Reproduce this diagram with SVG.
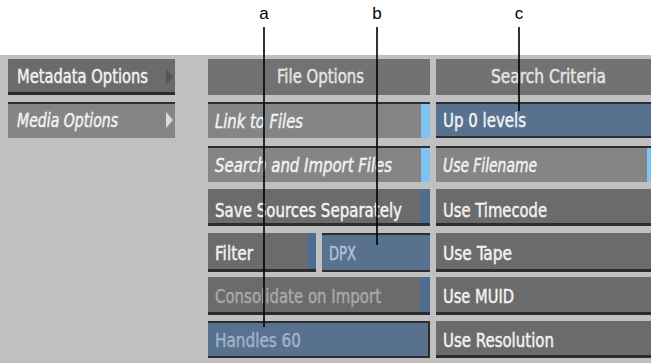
<svg xmlns="http://www.w3.org/2000/svg" width="651" height="363" viewBox="0 0 651 363">
<style>
.t{font-family:"DejaVu Sans Condensed","DejaVu Sans",sans-serif;font-size:19px;fill:#f2f2f2;stroke:#f2f2f2;stroke-width:0.45}
.i{font-style:italic}
.raised{fill:#6b6b6b}
.pressed{fill:#858585}
.head{fill:#727272}
.field{fill:#57718f}
.dk{fill:#2c2c2c}
.lb{fill:#7fc3f2}
.db{fill:#4f6c90}
.lbl{font-family:"Liberation Sans",Arial,sans-serif;font-size:17px;fill:#000}
.ld{stroke:#000;stroke-width:1.6;fill:none}
</style>
<rect x="0" y="0" width="651" height="363" fill="#ffffff"/>
<rect x="0" y="55" width="651" height="308" fill="#c0c0c0"/>

<g id="metadata-options">
<rect class="raised" x="8" y="59" width="167" height="36"/>
<rect class="dk" x="8" y="92" width="167" height="3"/>
<polygon points="166,69 173,77 166,85" fill="#555"/>
<text class="t" x="17" y="83" textLength="131" lengthAdjust="spacingAndGlyphs">Metadata Options</text>
</g>
<g id="media-options">
<rect class="pressed" x="8" y="102" width="167" height="36"/>
<rect class="dk" x="8" y="102" width="167" height="2"/>
<polygon points="166,112 173,120 166,128" fill="#dcdcdc"/>
<text class="t i" x="17" y="127" textLength="101" lengthAdjust="spacingAndGlyphs">Media Options</text>
</g>

<g id="file-options">
<rect class="head" x="208" y="59" width="222" height="36"/>
<text class="t" x="277" y="83" textLength="87" lengthAdjust="spacingAndGlyphs" style="fill:#e4e4e4;stroke:#e4e4e4">File Options</text>
</g>
<g id="link-to-files">
<rect class="pressed" x="208" y="102" width="222" height="36"/>
<rect class="dk" x="208" y="102" width="222" height="2"/>
<rect class="lb" x="421" y="104" width="9" height="34"/>
<text class="t i" x="215" y="128" textLength="88" lengthAdjust="spacingAndGlyphs">Link to Files</text>
</g>
<g id="search-and-import-files">
<rect class="pressed" x="208" y="146" width="222" height="36"/>
<rect class="dk" x="208" y="146" width="222" height="2"/>
<rect class="lb" x="421" y="148" width="9" height="34"/>
<text class="t i" x="215" y="172" textLength="177" lengthAdjust="spacingAndGlyphs">Search and Import Files</text>
</g>
<g id="save-sources-separately">
<rect class="raised" x="208" y="189" width="222" height="37"/>
<rect class="db" x="420" y="189" width="10" height="37"/>
<rect class="dk" x="208" y="223" width="222" height="3"/>
<text class="t" x="215" y="217" textLength="187" lengthAdjust="spacingAndGlyphs">Save Sources Separately</text>
</g>
<g id="filter">
<rect class="raised" x="208" y="233" width="108" height="39"/>
<rect class="db" x="307" y="233" width="9" height="39"/>
<rect class="dk" x="208" y="269" width="108" height="3"/>
<text class="t" x="215" y="260" textLength="38" lengthAdjust="spacingAndGlyphs">Filter</text>
</g>
<g id="dpx">
<rect class="field" x="322" y="233" width="108" height="39"/>
<rect class="dk" x="322" y="233" width="108" height="2"/>
<rect class="dk" x="322" y="270" width="108" height="2"/>
<text class="t" x="329" y="260" textLength="27" lengthAdjust="spacingAndGlyphs" style="fill:#b2c2d6;stroke:#b2c2d6">DPX</text>
</g>
<g id="consolidate-on-import">
<rect class="raised" x="208" y="277" width="222" height="38"/>
<rect class="db" x="420" y="277" width="10" height="38"/>
<rect class="dk" x="208" y="312" width="222" height="3"/>
<text class="t" x="215" y="303" textLength="166" lengthAdjust="spacingAndGlyphs" style="fill:#a9a9a9;stroke:#a9a9a9">Consolidate on Import</text>
</g>
<g id="handles-60">
<rect class="field" x="208" y="321" width="222" height="37"/>
<rect class="dk" x="208" y="321" width="222" height="2"/>
<rect class="dk" x="208" y="356" width="222" height="2"/>
<rect class="dk" x="428" y="321" width="2" height="37"/>
<text class="t" x="215" y="347" textLength="86" lengthAdjust="spacingAndGlyphs" style="fill:#a2b2c6;stroke:#a2b2c6">Handles 60</text>
</g>

<g id="search-criteria">
<rect class="head" x="436" y="59" width="215" height="36"/>
<text class="t" x="491" y="83" textLength="115" lengthAdjust="spacingAndGlyphs" style="fill:#e4e4e4;stroke:#e4e4e4">Search Criteria</text>
</g>
<g id="up-0-levels">
<rect class="field" x="436" y="102" width="215" height="36"/>
<rect class="dk" x="436" y="102" width="215" height="2"/>
<rect class="dk" x="436" y="136" width="215" height="2"/>
<text class="t" x="443" y="127" textLength="83" lengthAdjust="spacingAndGlyphs">Up 0 levels</text>
</g>
<g id="use-filename">
<rect class="pressed" x="436" y="146" width="215" height="36"/>
<rect class="dk" x="436" y="146" width="215" height="2"/>
<rect class="lb" x="647" y="148" width="4" height="34"/>
<text class="t i" x="443" y="172" textLength="94" lengthAdjust="spacingAndGlyphs">Use Filename</text>
</g>
<g id="use-timecode">
<rect class="raised" x="436" y="189" width="215" height="37"/>
<rect class="dk" x="436" y="223" width="215" height="3"/>
<text class="t" x="443" y="217" textLength="104" lengthAdjust="spacingAndGlyphs">Use Timecode</text>
</g>
<g id="use-tape">
<rect class="raised" x="436" y="233" width="215" height="39"/>
<rect class="dk" x="436" y="269" width="215" height="3"/>
<text class="t" x="443" y="260" textLength="69" lengthAdjust="spacingAndGlyphs">Use Tape</text>
</g>
<g id="use-muid">
<rect class="raised" x="436" y="277" width="215" height="38"/>
<rect class="dk" x="436" y="312" width="215" height="3"/>
<text class="t" x="443" y="303" textLength="71" lengthAdjust="spacingAndGlyphs">Use MUID</text>
</g>
<g id="use-resolution">
<rect class="raised" x="436" y="321" width="215" height="37"/>
<rect class="dk" x="436" y="355" width="215" height="3"/>
<text class="t" x="443" y="347" textLength="111" lengthAdjust="spacingAndGlyphs">Use Resolution</text>
</g>

<g id="connectors">
<line class="ld" x1="264" y1="27" x2="264" y2="327"/>
<line class="ld" x1="377" y1="27" x2="377" y2="245"/>
<line class="ld" x1="519" y1="27" x2="519" y2="111"/>
</g>
<g id="labels">
<text class="lbl" x="264" y="19" text-anchor="middle">a</text>
<text class="lbl" x="377" y="19" text-anchor="middle">b</text>
<text class="lbl" x="519" y="19" text-anchor="middle">c</text>
</g>
</svg>
